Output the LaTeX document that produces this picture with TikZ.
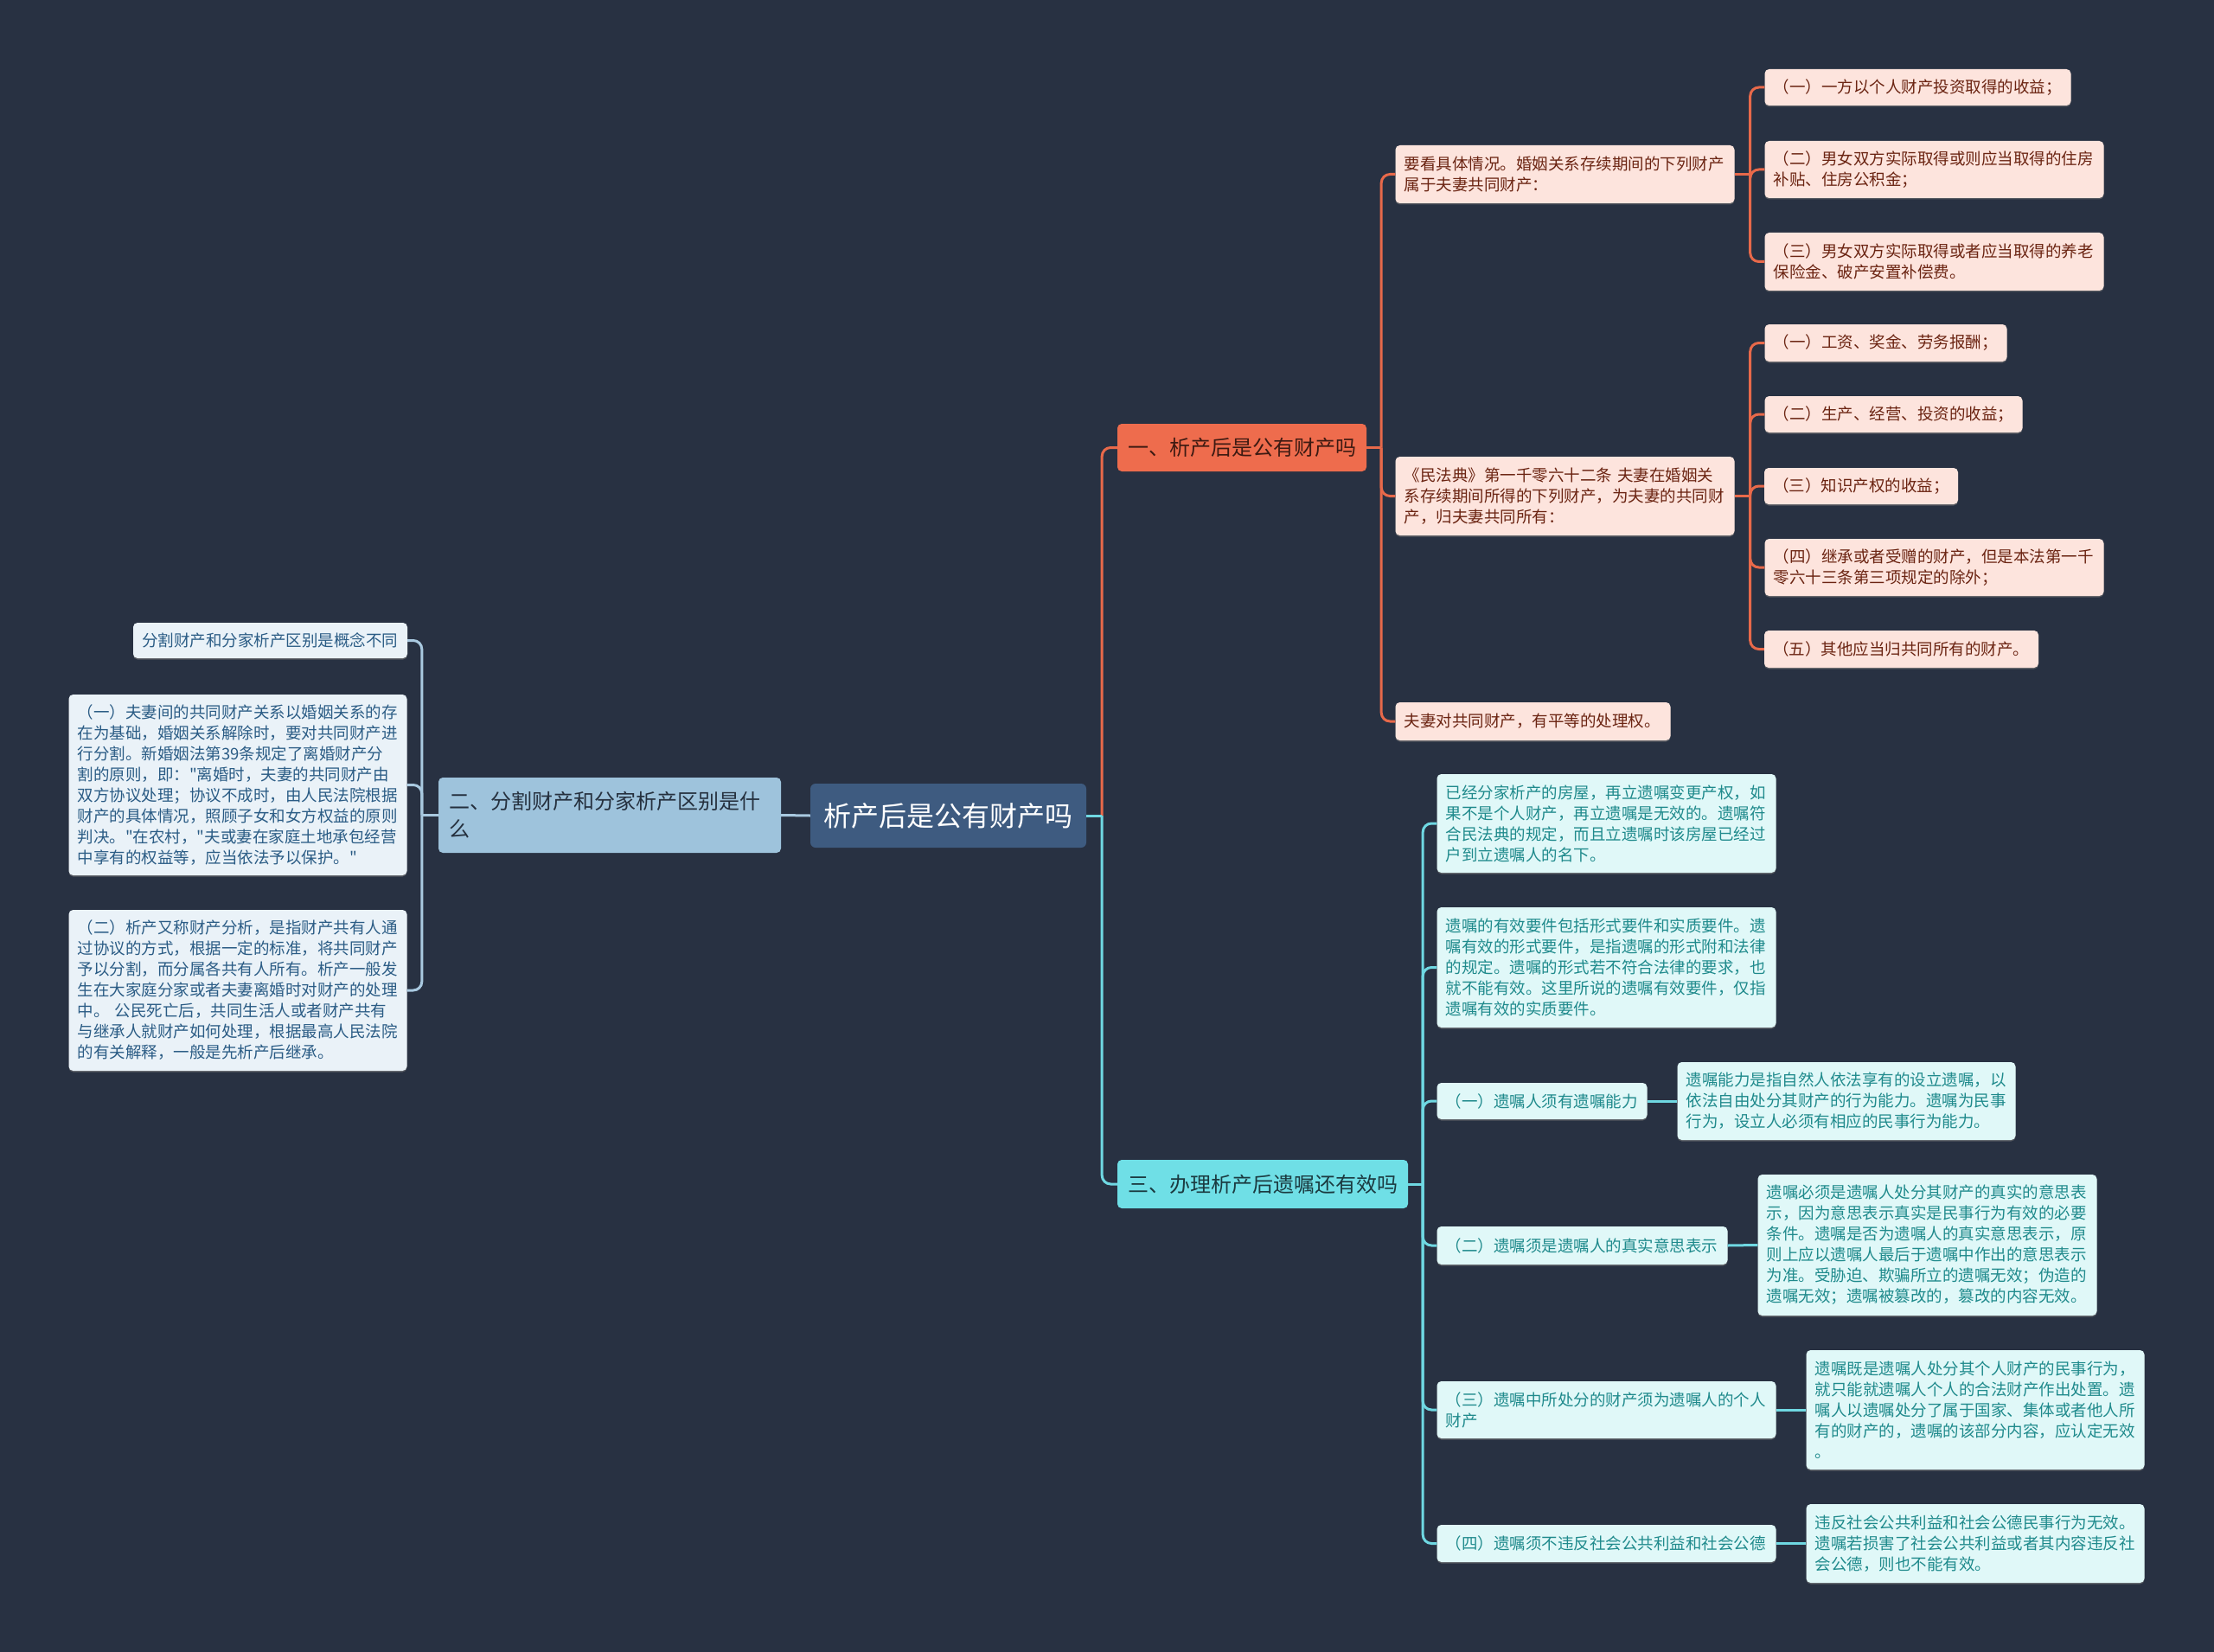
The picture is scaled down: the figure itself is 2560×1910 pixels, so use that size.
\documentclass[tikz,border=0pt]{standalone}
\usepackage{fontspec}
\setmainfont{Noto Sans CJK SC}
\newfontfamily\cjkplain{Noto Sans CJK SC}
\usetikzlibrary{calc}
\definecolor{bgc}{HTML}{283142}
\definecolor{rootc}{HTML}{3E5B80}
\definecolor{ofill}{HTML}{EE6C4D}
\definecolor{otext}{HTML}{3D1A12}
\definecolor{ochild}{HTML}{FDE4DD}
\definecolor{ochildtext}{HTML}{6B2412}
\definecolor{oline}{HTML}{E8694A}
\definecolor{cfill}{HTML}{6FDFE6}
\definecolor{ctext}{HTML}{1B3A40}
\definecolor{cchild}{HTML}{E0F8F8}
\definecolor{cchildtext}{HTML}{1F8A8C}
\definecolor{cline}{HTML}{6FD8E2}
\definecolor{bfill}{HTML}{9EC3DC}
\definecolor{btext}{HTML}{25303E}
\definecolor{bchild}{HTML}{EAF2F8}
\definecolor{bchildtext}{HTML}{2B5C85}
\definecolor{bline}{HTML}{A9C9E0}
\tikzset{
  basebox/.style={rounded corners=5pt, inner xsep=10pt, inner ysep=0pt, align=left,
    preaction={fill=black!55, opacity=0.6, transform canvas={yshift=-1.5pt}}},
  smalltext/.style={font=\cjkplain\fontsize{18.5}{24}\selectfont},
  obox/.style={basebox, smalltext, fill=ochild, text=ochildtext},
  cbox/.style={basebox, smalltext, fill=cchild, text=cchildtext},
  lbox/.style={basebox, smalltext, fill=bchild, text=bchildtext},
  olink/.style={draw=oline, line width=3pt, rounded corners=10pt},
  clink/.style={draw=cline, line width=3pt, rounded corners=10pt},
  blink/.style={draw=bline, line width=3pt, rounded corners=10pt},
}
\begin{document}
\begin{tikzpicture}[x=1pt,y=-1pt]
\useasboundingbox (0,0) rectangle (2560,1910);
\fill[bgc] (0,0) rectangle (2560,1910);

% root
\node[rounded corners=6pt, fill=rootc, text=white, minimum width=319pt, minimum height=74pt, inner sep=0pt,
  font=\cjkplain\fontsize{32}{38}\selectfont] (root) at (1096.5,943) {析产后是公有财产吗};

% main branches
\node[rounded corners=5pt, fill=ofill, text=otext, minimum width=288pt, minimum height=55pt, inner sep=0pt,
  font=\cjkplain\fontsize{24}{30}\selectfont] (b1) at (1436,517.5) {一、析产后是公有财产吗};
\node[rounded corners=5pt, fill=bfill, text=btext, text width=372pt, minimum height=87pt, inner xsep=12pt, inner ysep=0pt,
  align=left, font=\cjkplain\fontsize{24}{32}\selectfont] (b2) at (705,942.5) {二、分割财产和分家析产区别是什\\么};
\node[rounded corners=5pt, fill=cfill, text=ctext, minimum width=336pt, minimum height=56pt, inner sep=0pt,
  font=\cjkplain\fontsize{24}{30}\selectfont] (b3) at (1460,1369) {三、办理析产后遗嘱还有效吗};

% orange children
\node[obox, text width=372pt, minimum height=67pt] (o1) at (1809.5,201.5) {要看具体情况。婚姻关系存续期间的下列财产\\属于夫妻共同财产：};
\node[obox, text width=334pt, minimum height=42pt] (o1a) at (2217.5,101) {（一）一方以个人财产投资取得的收益；};
\node[obox, text width=372pt, minimum height=66pt] (o1b) at (2236.5,196) {（二）男女双方实际取得或则应当取得的住房\\补贴、住房公积金；};
\node[obox, text width=372pt, minimum height=67pt] (o1c) at (2236.5,302.5) {（三）男女双方实际取得或者应当取得的养老\\保险金、破产安置补偿费。};
\node[obox, text width=372pt, minimum height=91pt] (o2) at (1809.5,573.5) {《民法典》第一千零六十二条 夫妻在婚姻关\\系存续期间所得的下列财产，为夫妻的共同财\\产，归夫妻共同所有：};
\node[obox, text width=260pt, minimum height=43pt] (o2a) at (2180.5,396.5) {（一）工资、奖金、劳务报酬；};
\node[obox, text width=278pt, minimum height=42pt] (o2b) at (2189.5,479) {（二）生产、经营、投资的收益；};
\node[obox, text width=204pt, minimum height=42pt] (o2c) at (2152,562) {（三）知识产权的收益；};
\node[obox, text width=372pt, minimum height=66pt] (o2d) at (2236.5,656) {（四）继承或者受赠的财产，但是本法第一千\\零六十三条第三项规定的除外；};
\node[obox, text width=297pt, minimum height=43pt] (o2e) at (2198.5,750.5) {（五）其他应当归共同所有的财产。};
\node[obox, text width=298pt, minimum height=44pt] (o3) at (1772.5,834) {夫妻对共同财产，有平等的处理权。};

% cyan children
\node[cbox, text width=372pt, minimum height=114pt] (c1) at (1857.5,952) {已经分家析产的房屋，再立遗嘱变更产权，如\\果不是个人财产，再立遗嘱是无效的。遗嘱符\\合民法典的规定，而且立遗嘱时该房屋已经过\\户到立遗嘱人的名下。};
\node[cbox, text width=372pt, minimum height=139pt] (c2) at (1857.5,1118.5) {遗嘱的有效要件包括形式要件和实质要件。遗\\嘱有效的形式要件，是指遗嘱的形式附和法律\\的规定。遗嘱的形式若不符合法律的要求，也\\就不能有效。这里所说的遗嘱有效要件，仅指\\遗嘱有效的实质要件。};
\node[cbox, text width=223pt, minimum height=42pt] (c3) at (1783,1273) {（一）遗嘱人须有遗嘱能力};
\node[cbox, text width=371pt, minimum height=90pt] (c3x) at (2135,1273) {遗嘱能力是指自然人依法享有的设立遗嘱，以\\依法自由处分其财产的行为能力。遗嘱为民事\\行为，设立人必须有相应的民事行为能力。};
\node[cbox, text width=316pt, minimum height=44pt] (c4) at (1829.5,1440) {（二）遗嘱须是遗嘱人的真实意思表示};
\node[cbox, text width=372pt, minimum height=163pt] (c4x) at (2228.5,1439.5) {遗嘱必须是遗嘱人处分其财产的真实的意思表\\示，因为意思表示真实是民事行为有效的必要\\条件。遗嘱是否为遗嘱人的真实意思表示，原\\则上应以遗嘱人最后于遗嘱中作出的意思表示\\为准。受胁迫、欺骗所立的遗嘱无效；伪造的\\遗嘱无效；遗嘱被篡改的，篡改的内容无效。};
\node[cbox, text width=372pt, minimum height=66pt] (c5) at (1857.5,1630) {（三）遗嘱中所处分的财产须为遗嘱人的个人\\财产};
\node[cbox, text width=371pt, minimum height=138pt] (c5x) at (2284,1630) {遗嘱既是遗嘱人处分其个人财产的民事行为，\\就只能就遗嘱人个人的合法财产作出处置。遗\\嘱人以遗嘱处分了属于国家、集体或者他人所\\有的财产的，遗嘱的该部分内容，应认定无效\\。};
\node[cbox, text width=372pt, minimum height=43pt] (c6) at (1857.5,1784.5) {（四）遗嘱须不违反社会公共利益和社会公德};
\node[cbox, text width=371pt, minimum height=91pt] (c6x) at (2284,1784.5) {违反社会公共利益和社会公德民事行为无效。\\遗嘱若损害了社会公共利益或者其内容违反社\\会公德，则也不能有效。};

% left children
\node[lbox, text width=297pt, minimum height=41pt] (l1) at (312.5,740.5) {分割财产和分家析产区别是概念不同};
\node[lbox, text width=371pt, minimum height=209pt] (l2) at (275,907.5) {（一）夫妻间的共同财产关系以婚姻关系的存\\在为基础，婚姻关系解除时，要对共同财产进\\行分割。新婚姻法第39条规定了离婚财产分\\割的原则，即："离婚时，夫妻的共同财产由\\双方协议处理；协议不成时，由人民法院根据\\财产的具体情况，照顾子女和女方权益的原则\\判决。"在农村，"夫或妻在家庭土地承包经营\\中享有的权益等，应当依法予以保护。"};
\node[lbox, text width=371pt, minimum height=186pt] (l3) at (275,1145) {（二）析产又称财产分析，是指财产共有人通\\过协议的方式，根据一定的标准，将共同财产\\予以分割，而分属各共有人所有。析产一般发\\生在大家庭分家或者夫妻离婚时对财产的处理\\中。 公民死亡后，共同生活人或者财产共有\\与继承人就财产如何处理，根据最高人民法院\\的有关解释，一般是先析产后继承。};

% junction coordinates
\coordinate (jr) at ($(root.east)+(18,0)$);
\coordinate (jb1) at ($(b1.east)+(17,0)$);
\coordinate (jo1) at ($(o1.east)+(18,0)$);
\coordinate (jo2) at ($(o2.east)+(18,0)$);
\coordinate (jb3) at ($(b3.east)+(17,0)$);
\coordinate (jb2) at ($(b2.west)+(-19,0)$);

% orange
\path[olink] (jr) |- (b1.west);
\path[olink] (b1.east) -- (jb1);
\foreach \t in {o1,o2,o3} { \path[olink] (jb1) |- (\t.west); }
\path[olink] (o1.east) -- (jo1);
\foreach \t in {o1a,o1b,o1c} { \path[olink] (jo1) |- (\t.west); }
\path[olink] (o2.east) -- (jo2);
\foreach \t in {o2a,o2b,o2c,o2d,o2e} { \path[olink] (jo2) |- (\t.west); }

% cyan
\path[clink] (root.east) -- (jr);
\path[clink] (jr) |- (b3.west);
\path[clink] (b3.east) -- (jb3);
\foreach \t in {c1,c2,c3,c4,c5,c6} { \path[clink] (jb3) |- (\t.west); }
\path[clink] (c3.east) -- (c3x.west);
\path[clink] (c4.east) -- (c4x.west);
\path[clink] (c5.east) -- (c5x.west);
\path[clink] (c6.east) -- (c6x.west);

% light blue
\path[blink] (root.west) -- (b2.east);
\path[blink] (b2.west) -- (jb2);
\foreach \t in {l1,l2,l3} { \path[blink] (jb2) |- (\t.east); }
\end{tikzpicture}
\end{document}
